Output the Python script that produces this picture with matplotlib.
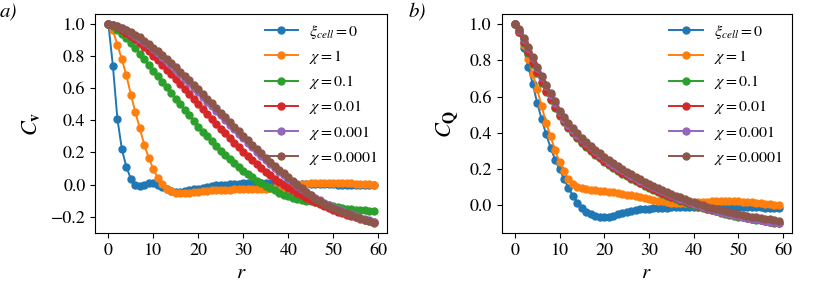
import numpy as np
import matplotlib
matplotlib.use("Agg")
import matplotlib.pyplot as plt

plt.rcParams['font.family'] = ['STIXGeneral', 'DejaVu Serif']
plt.rcParams['mathtext.fontset'] = 'stix'

r = np.arange(60)

labels = [r'$\xi_{cell}=0$', r'$\chi=1$', r'$\chi=0.1$', r'$\chi=0.01$',
          r'$\chi=0.001$', r'$\chi=0.0001$']

# panel a) C_v
cv_xi0 = [1.0, 0.74, 0.41, 0.22, 0.11, 0.035, -0.005, -0.01, 0.0, 0.012,
          0.01, 0.0, -0.015, -0.03, -0.042, -0.048, -0.045, -0.04, -0.035, -0.03,
          -0.025, -0.02, -0.015, -0.01, -0.006, -0.003, 0.0, 0.003, 0.005, 0.006,
          0.007, 0.008, 0.008, 0.008, 0.008, 0.008, 0.008, 0.007, 0.007, 0.006,
          0.006, 0.005, 0.005, 0.004, 0.004, 0.003, 0.003, 0.002, 0.002, 0.001,
          0.001, 0.0, 0.0, -0.001, -0.001, -0.002, -0.002, -0.002, -0.002, -0.002]
cv_chi1 = [1.0, 0.96, 0.87, 0.78, 0.68, 0.56, 0.45, 0.35, 0.245, 0.165,
           0.095, 0.04, 0.003, -0.025, -0.042, -0.05, -0.052, -0.052, -0.05, -0.048,
           -0.045, -0.042, -0.04, -0.037, -0.035, -0.033, -0.032, -0.031, -0.03, -0.029,
           -0.028, -0.027, -0.027, -0.026, -0.026, -0.025, -0.024, -0.022, -0.02, -0.016,
           -0.012, -0.007, -0.003, 0.001, 0.005, 0.008, 0.01, 0.011, 0.012, 0.012,
           0.012, 0.011, 0.01, 0.009, 0.007, 0.006, 0.004, 0.002, 0.001, 0.0]
cv_chi01 = [1.0, 0.985, 0.96, 0.935, 0.91, 0.88, 0.85, 0.815, 0.78, 0.745,
            0.71, 0.675, 0.64, 0.605, 0.57, 0.535, 0.5, 0.465, 0.43, 0.395,
            0.36, 0.33, 0.30, 0.27, 0.24, 0.21, 0.185, 0.16, 0.135, 0.11,
            0.085, 0.065, 0.045, 0.025, 0.007, -0.008, -0.022, -0.036, -0.05, -0.063,
            -0.074, -0.082, -0.089, -0.095, -0.1, -0.105, -0.109, -0.114, -0.12, -0.126,
            -0.135, -0.14, -0.145, -0.15, -0.152, -0.156, -0.16, -0.158, -0.163, -0.162]
cv_chi001 = [1.0, 0.993, 0.98, 0.964, 0.946, 0.926, 0.904, 0.88, 0.855, 0.829,
             0.802, 0.774, 0.745, 0.716, 0.686, 0.656, 0.625, 0.594, 0.563, 0.532,
             0.501, 0.47, 0.439, 0.408, 0.378, 0.348, 0.318, 0.289, 0.26, 0.232,
             0.205, 0.178, 0.152, 0.127, 0.103, 0.08, 0.058, 0.037, 0.017, -0.002,
             -0.02, -0.037, -0.053, -0.068, -0.083, -0.097, -0.11, -0.123, -0.135, -0.147,
             -0.158, -0.168, -0.178, -0.187, -0.196, -0.204, -0.212, -0.219, -0.226, -0.232]
cv_chi0001 = [1.0, 0.995, 0.986, 0.975, 0.961, 0.945, 0.928, 0.909, 0.888, 0.866,
              0.843, 0.819, 0.794, 0.768, 0.742, 0.715, 0.688, 0.66, 0.632, 0.604,
              0.575, 0.546, 0.517, 0.488, 0.459, 0.43, 0.401, 0.372, 0.343, 0.315,
              0.287, 0.259, 0.232, 0.205, 0.179, 0.153, 0.128, 0.104, 0.08, 0.057,
              0.035, 0.014, -0.007, -0.028, -0.048, -0.066, -0.083, -0.099, -0.114, -0.128,
              -0.141, -0.153, -0.164, -0.175, -0.186, -0.196, -0.206, -0.215, -0.224, -0.233]
cv_chi00001 = [1.0, 0.996, 0.988, 0.978, 0.965, 0.95, 0.934, 0.916, 0.896, 0.875,
               0.853, 0.83, 0.806, 0.781, 0.756, 0.73, 0.703, 0.676, 0.648, 0.62,
               0.592, 0.564, 0.535, 0.506, 0.477, 0.448, 0.419, 0.39, 0.361, 0.332,
               0.304, 0.276, 0.248, 0.221, 0.194, 0.168, 0.142, 0.117, 0.093, 0.07,
               0.047, 0.024, 0.0, -0.024, -0.047, -0.068, -0.088, -0.105, -0.12, -0.134,
               -0.147, -0.159, -0.17, -0.18, -0.19, -0.2, -0.21, -0.22, -0.23, -0.24]

# panel b) C_Q
cq_xi0 = [1.0, 0.96, 0.865, 0.765, 0.67, 0.565, 0.475, 0.392, 0.318, 0.252,
          0.198, 0.145, 0.095, 0.053, 0.015, -0.015, -0.036, -0.05, -0.058, -0.063,
          -0.065, -0.063, -0.058, -0.05, -0.042, -0.035, -0.029, -0.025, -0.022, -0.02,
          -0.018, -0.016, -0.015, -0.014, -0.013, -0.012, -0.012, -0.012, -0.012, -0.012,
          -0.012, -0.012, -0.011, -0.011, -0.011, -0.011, -0.011, -0.011, -0.011, -0.011,
          -0.011, -0.011, -0.012, -0.012, -0.012, -0.012, -0.013, -0.013, -0.013, -0.014]
cq_chi1 = [1.0, 0.955, 0.885, 0.806, 0.725, 0.64, 0.545, 0.455, 0.38, 0.303,
           0.24, 0.19, 0.145, 0.118, 0.103, 0.095, 0.09, 0.087, 0.084, 0.081,
           0.078, 0.075, 0.071, 0.067, 0.063, 0.059, 0.055, 0.05, 0.045, 0.04,
           0.035, 0.03, 0.025, 0.021, 0.017, 0.014, 0.012, 0.011, 0.011, 0.012,
           0.014, 0.016, 0.018, 0.02, 0.022, 0.023, 0.024, 0.024, 0.024, 0.023,
           0.022, 0.02, 0.018, 0.016, 0.013, 0.01, 0.008, 0.006, 0.003, 0.001]
cq_chi01 = [1.0, 0.955, 0.895, 0.838, 0.782, 0.728, 0.676, 0.626, 0.579, 0.536,
            0.492, 0.458, 0.426, 0.397, 0.37, 0.345, 0.322, 0.3, 0.279, 0.259,
            0.241, 0.223, 0.206, 0.19, 0.175, 0.161, 0.147, 0.134, 0.121, 0.109,
            0.097, 0.086, 0.075, 0.064, 0.054, 0.044, 0.035, 0.026, 0.017, 0.009,
            0.001, -0.007, -0.014, -0.021, -0.028, -0.034, -0.04, -0.046, -0.052, -0.057,
            -0.062, -0.067, -0.071, -0.075, -0.079, -0.083, -0.087, -0.091, -0.095, -0.098]
cq_chi001 = [1.0, 0.958, 0.9, 0.843, 0.787, 0.733, 0.681, 0.631, 0.584, 0.541,
             0.497, 0.463, 0.431, 0.402, 0.375, 0.35, 0.327, 0.305, 0.284, 0.264,
             0.246, 0.228, 0.211, 0.195, 0.18, 0.165, 0.151, 0.138, 0.125, 0.113,
             0.101, 0.09, 0.079, 0.068, 0.058, 0.048, 0.039, 0.03, 0.021, 0.013,
             0.005, -0.003, -0.011, -0.018, -0.025, -0.032, -0.038, -0.044, -0.05, -0.055,
             -0.06, -0.065, -0.07, -0.074, -0.078, -0.082, -0.086, -0.09, -0.094, -0.097]
cq_chi0001 = [1.0, 0.968, 0.918, 0.865, 0.81, 0.757, 0.705, 0.656, 0.609, 0.565,
              0.512, 0.477, 0.445, 0.416, 0.389, 0.364, 0.341, 0.319, 0.298, 0.278,
              0.259, 0.241, 0.224, 0.208, 0.192, 0.177, 0.163, 0.149, 0.136, 0.123,
              0.111, 0.099, 0.088, 0.077, 0.066, 0.056, 0.046, 0.036, 0.027, 0.018,
              0.009, 0.001, -0.007, -0.015, -0.022, -0.029, -0.036, -0.042, -0.048, -0.054,
              -0.059, -0.064, -0.069, -0.074, -0.078, -0.082, -0.086, -0.09, -0.094, -0.098]
cq_chi00001 = [1.0, 0.972, 0.925, 0.872, 0.818, 0.765, 0.713, 0.664, 0.617, 0.573,
               0.52, 0.485, 0.453, 0.424, 0.397, 0.372, 0.349, 0.327, 0.306, 0.286,
               0.267, 0.249, 0.232, 0.216, 0.2, 0.185, 0.171, 0.157, 0.144, 0.131,
               0.119, 0.107, 0.096, 0.085, 0.074, 0.064, 0.054, 0.044, 0.035, 0.026,
               0.017, 0.009, 0.001, -0.007, -0.014, -0.02, -0.026, -0.032, -0.038, -0.043,
               -0.048, -0.053, -0.058, -0.062, -0.066, -0.07, -0.074, -0.078, -0.082, -0.086]

cv_all = [cv_xi0, cv_chi1, cv_chi01, cv_chi001, cv_chi0001, cv_chi00001]
cq_all = [cq_xi0, cq_chi1, cq_chi01, cq_chi001, cq_chi0001, cq_chi00001]

fig = plt.figure(figsize=(8.13, 3.05), dpi=100)
ax1 = fig.add_axes([0.117, 0.236, 0.359, 0.718])
ax2 = fig.add_axes([0.617, 0.236, 0.357, 0.718])

for ax, data, ylab in [(ax1, cv_all, r'$C_\mathbf{v}$'), (ax2, cq_all, r'$C_\mathbf{Q}$')]:
    for y, lab in zip(data, labels):
        ax.plot(r, y, '-o', ms=5, lw=1.4, label=lab)
    ax.set_xlabel(r'$r$', fontsize=15, labelpad=3)
    ax.set_ylabel(ylab, fontsize=16, labelpad=6)
    ax.tick_params(labelsize=13)
    ax.set_xticks([0, 10, 20, 30, 40, 50, 60])
    ax.legend(fontsize=11.5, frameon=False, loc='upper right',
              labelspacing=0.45, handlelength=2.1, handletextpad=0.7,
              borderaxespad=0.15)

ax1.set_yticks([-0.2, 0.0, 0.2, 0.4, 0.6, 0.8, 1.0])
ax2.set_yticks([0.0, 0.2, 0.4, 0.6, 0.8, 1.0])

fig.text(0.0, 0.96, 'a)', fontsize=15, style='italic', va='center')
fig.text(0.502, 0.96, 'b)', fontsize=15, style='italic', va='center')

fig.savefig('out.png', dpi=100)
